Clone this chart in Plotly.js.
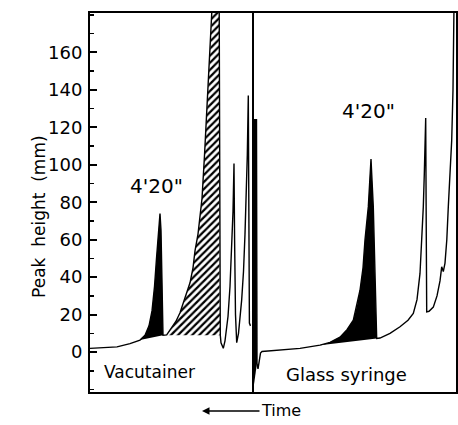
<!DOCTYPE html>
<html>
<head>
<meta charset="utf-8">
<script src="https://cdn.plot.ly/plotly-3.0.1.min.js"></script>
<style>html,body{margin:0;padding:0;background:#fff;}#chart{width:458px;height:425px;}</style>
</head>
<body>
<div id="chart"></div>
<script>
// Chart position (arbitrary recorder units, left to right) and peak height (mm)
const vacPosition = [0, 10, 27, 40, 50, 55, 59, 62, 64.5, 66.5, 68.3, 70, 71, 72, 73,
  76.7, 82, 86, 90, 96, 100, 103, 105, 108, 110, 112, 114.5, 117, 119.5, 122, 125,
  129, 129.3, 129.6, 130.3,
  131, 133.3, 135, 138, 140, 141.7, 143, 143.4, 144, 144.6, 145.5, 146.7, 148.5,
  151.7, 153.5, 155, 156.3, 157.3, 158.3, 158.8, 159.4, 160.5];
const vacHeight = [2, 2.3, 2.8, 4.5, 6.4, 9, 14, 22, 35, 50, 63, 74, 65, 40, 9,
  9.2, 13, 16.5, 21, 30, 37, 45, 54, 63, 72, 82, 105, 129, 155, 181, 215,
  215, 120, 30, 9,
  5, 2, 6, 19, 35, 54, 75, 85, 100.7, 60, 20, 5, 10,
  28, 43, 63, 82, 105, 137, 80, 15.5, 14];

const syrPosition = [163, 163.5, 166.5, 167, 168, 169.5, 170.5, 172, 190, 210, 230,
  240, 250, 257, 263.3, 267, 270, 273, 275, 278.3, 280, 281, 283.3, 285, 286.7,
  290, 300, 310, 318, 323.3, 327, 330, 332, 333.3, 334.3, 335, 335.7, 336.2, 336.7,
  339, 343.3, 347, 350, 351.7, 353.3, 355, 356.8, 358.3, 360, 361.7, 363, 364, 365];
const syrHeight = [-21, 124, 124, -6, -9, -4, -0.5, 0.3, 1, 2, 3.7,
  5.2, 8, 12, 17, 25, 33, 45, 60, 77.5, 95, 103, 77.5, 40, 7.3,
  7.5, 10, 13.5, 17, 20.6, 28, 42, 60, 77.5, 95, 113, 125, 70, 21.5,
  21.8, 24, 30, 38, 45.5, 43, 47.5, 60, 77.5, 95, 113, 140, 181, 230];

// index ranges of shaded peaks
const vacBlackPeak = [4, 14];
const vacHatchedPeak = [14, 34];
const syrSpike = [0, 3];
const syrBlackPeak = [10, 24];

const yTickValues = [0, 20, 40, 60, 80, 100, 120, 140, 160];
const panelLabels = ['Vacutainer', 'Glass syringe'];
const peakLabel = "4'20\"";
const panelDivider = 163;

function slice(xs, ys, r) {
  return { x: xs.slice(r[0], r[1] + 1), y: ys.slice(r[0], r[1] + 1) };
}
const FONT = 'DejaVu Sans, sans-serif';

const vb = slice(vacPosition, vacHeight, vacBlackPeak);
const vh = slice(vacPosition, vacHeight, vacHatchedPeak);
const ss = slice(syrPosition, syrHeight, syrSpike);
const sb = slice(syrPosition, syrHeight, syrBlackPeak);

const traces = [
  { x: vh.x, y: vh.y, type: 'scatter', mode: 'none', fill: 'toself',
    fillcolor: 'white',
    fillpattern: { shape: '/', size: 5, solidity: 0.45, fgcolor: 'black', bgcolor: 'white' },
    hoverinfo: 'skip', showlegend: false },
  { x: vb.x, y: vb.y, type: 'scatter', mode: 'none', fill: 'toself', fillcolor: 'black',
    hoverinfo: 'skip', showlegend: false },
  { x: sb.x, y: sb.y, type: 'scatter', mode: 'none', fill: 'toself', fillcolor: 'black',
    hoverinfo: 'skip', showlegend: false },
  { x: ss.x, y: ss.y, type: 'scatter', mode: 'none', fill: 'toself', fillcolor: 'black',
    hoverinfo: 'skip', showlegend: false },
  { x: vacPosition, y: vacHeight, type: 'scatter', mode: 'lines', name: panelLabels[0],
    line: { color: 'black', width: 1.4 }, showlegend: false },
  { x: syrPosition, y: syrHeight, type: 'scatter', mode: 'lines', name: panelLabels[1],
    line: { color: 'black', width: 1.4 }, showlegend: false }
];

const layout = {
  width: 458, height: 425,
  margin: { l: 90, r: 2, t: 13, b: 33, pad: 0 },
  paper_bgcolor: 'white', plot_bgcolor: 'white',
  showlegend: false,
  font: { family: FONT, color: 'black', size: 17 },
  xaxis: { range: [0, 366], showline: true, mirror: true, linewidth: 2, linecolor: 'black',
    showticklabels: false, ticks: '', showgrid: false, zeroline: false, fixedrange: true },
  yaxis: { range: [-21.3, 181], tickvals: yTickValues, ticks: 'inside', ticklen: 7,
    tickwidth: 2, tickcolor: 'black',
    minor: { dtick: 10, tick0: 0, ticks: 'inside', ticklen: 4, tickwidth: 1.5, tickcolor: 'black', showgrid: false },
    showline: true, mirror: true, linewidth: 2, linecolor: 'black',
    showgrid: false, zeroline: false, tickfont: { family: FONT, size: 18, color: 'black' },
    ticklabelstandoff: 2 },
  shapes: [
    { type: 'line', xref: 'x', yref: 'paper', x0: panelDivider, x1: panelDivider, y0: 0, y1: 1,
      line: { color: 'black', width: 2 } }
  ],
  annotations: [
    { xref: 'x', yref: 'y', x: 59, y: -10.7, text: panelLabels[0], showarrow: false,
      font: { family: FONT, size: 17, color: 'black' } },
    { xref: 'x', yref: 'y', x: 256, y: -11.7, text: panelLabels[1], showarrow: false,
      font: { family: FONT, size: 18, color: 'black' } },
    { xref: 'x', yref: 'y', x: 66, y: 88.5, text: peakLabel, showarrow: false,
      font: { family: FONT, size: 20, color: 'black' } },
    { xref: 'x', yref: 'y', x: 278, y: 128.5, text: peakLabel, showarrow: false,
      font: { family: FONT, size: 20, color: 'black' } },
    { xref: 'paper', yref: 'paper', x: -0.172, y: 0.462, text: 'Peak  height  (mm)',
      textangle: -90, showarrow: false, font: { family: FONT, size: 17, color: 'black' } },
    { xref: 'x', yref: 'paper', x: 112, y: -0.05, text: 'Time', showarrow: true,
      ax: 79, ay: 0, arrowhead: 2, arrowsize: 1, arrowwidth: 1.5, arrowcolor: 'black',
      font: { family: FONT, size: 16, color: 'black' } }
  ]
};

Plotly.newPlot('chart', traces, layout, { displayModeBar: false, staticPlot: true });
</script>
</body>
</html>
